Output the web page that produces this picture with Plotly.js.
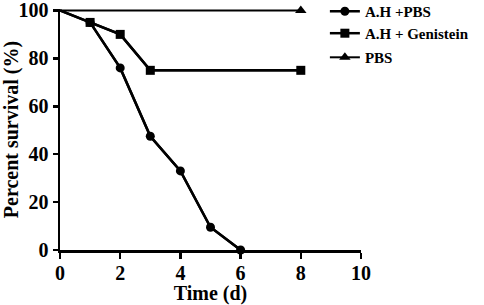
<!DOCTYPE html>
<html>
<head>
<meta charset="utf-8">
<script src="https://cdn.plot.ly/plotly-3.0.1.min.js"></script>
<style>html,body{margin:0;padding:0;background:#fff}#chart{width:484px;height:305px}</style>
</head>
<body>
<div id="chart"></div>
<script>
const seriesNames = ["A.H +PBS", "A.H + Genistein", "PBS"];
const daysAHPBS = [0, 1, 2, 3, 4, 5, 6];
const survAHPBS = [100, 95, 76, 47.5, 33, 9.5, 0];
const daysGen = [0, 1, 2, 3, 8];
const survGen = [100, 95, 90, 75, 75];
const daysPBS = [0, 8];
const survPBS = [100, 100];
const xTicks = [0, 2, 4, 6, 8, 10];
const yTicks = [0, 20, 40, 60, 80, 100];

const font = {family: "Liberation Serif, Times New Roman, serif", color: "#000"};
const series = [
  {x: daysAHPBS, y: survAHPBS, symbol: "circle", size: 9, width: 2.5},
  {x: daysGen, y: survGen, symbol: "square", size: 9, width: 2.5},
  {x: daysPBS, y: survPBS, symbol: "triangle-up", size: 10, width: 2}
];
const legendIds = ["legend", "legend2", "legend3"];
const legendY = [1.058, 0.967, 0.867];

const traces = [];
series.forEach((s, i) => {
  traces.push({x: s.x, y: s.y, mode: "lines", showlegend: false, hoverinfo: "skip",
    line: {color: "#000", width: s.width}});
  traces.push({x: s.x.slice(1), y: s.y.slice(1), name: seriesNames[i], mode: "lines+markers",
    legend: legendIds[i], cliponaxis: false, line: {color: "#000", width: s.width},
    marker: {symbol: s.symbol, color: "#000", size: s.size, line: {width: 0}}});
});

const layout = {
  width: 484, height: 305,
  margin: {l: 60, r: 123, t: 9, b: 55, autoexpand: false},
  paper_bgcolor: "#fff", plot_bgcolor: "#fff",
  showlegend: true,
  xaxis: {range: [0, 10], tickvals: xTicks, ticktext: xTicks.map(String), automargin: false,
          showgrid: false, zeroline: false, showline: true, linecolor: "#000", linewidth: 2.5,
          ticks: "outside", ticklen: 6, tickwidth: 2.5, tickcolor: "#000", ticklabeloverflow: "allow",
          ticklabelstandoff: -3,
          tickfont: Object.assign({}, font, {size: 20, weight: "bold"}),
          title: {text: "Time (d)", font: Object.assign({}, font, {size: 20, weight: "bold"}), standoff: 0}},
  yaxis: {range: [0, 100.6], tickvals: yTicks, ticktext: yTicks.map(String), automargin: false,
          showgrid: false, zeroline: false, showline: true, linecolor: "#000", linewidth: 2.5,
          ticks: "outside", ticklen: 5, tickwidth: 2.5, tickcolor: "#000", ticklabeloverflow: "allow",
          tickfont: Object.assign({}, font, {size: 20, weight: "bold"}),
          title: {text: "Percent survival (%)", font: Object.assign({}, font, {size: 20, weight: "bold"}), standoff: 2}}
};
legendIds.forEach((id, i) => {
  layout[id] = {x: 0.88, y: legendY[i], xanchor: "left", yanchor: "top", itemwidth: 30,
    font: Object.assign({}, font, {size: 15, weight: "bold"}), bgcolor: "rgba(0,0,0,0)"};
});

Plotly.newPlot("chart", traces, layout, {staticPlot: true, displayModeBar: false});
</script>
</body>
</html>
